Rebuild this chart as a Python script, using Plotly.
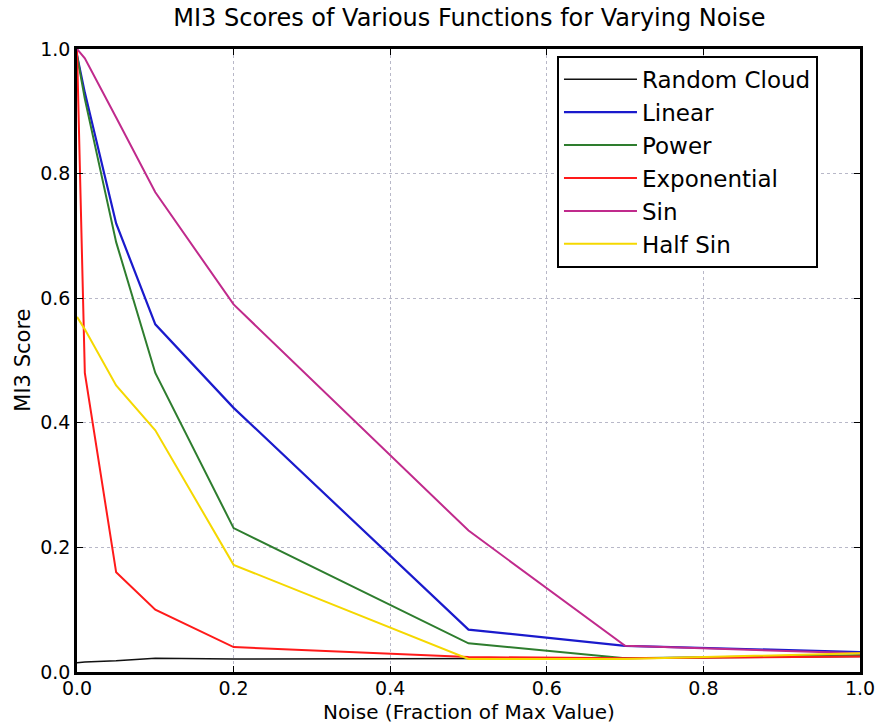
import plotly.graph_objects as go

noise = [0.0, 0.01, 0.05, 0.1, 0.2, 0.5, 0.7, 1.0]

random_cloud = [0.015, 0.016, 0.018, 0.022, 0.021, 0.022, 0.022, 0.025]
linear = [0.99, 0.93, 0.72, 0.558, 0.424, 0.068, 0.042, 0.032]
power = [0.99, 0.92, 0.69, 0.48, 0.231, 0.046, 0.022, 0.027]
exponential = [1.0, 0.48, 0.16, 0.10, 0.04, 0.024, 0.022, 0.025]
sin_vals = [1.0, 0.985, 0.89, 0.77, 0.59, 0.227, 0.042, 0.03]
half_sin = [0.57, 0.55, 0.46, 0.388, 0.172, 0.021, 0.021, 0.03]

series = [
    ("Random Cloud", random_cloud, "#111111", 1.5),
    ("Linear", linear, "#1a1acc", 2.2),
    ("Power", power, "#2e7d2e", 2.0),
    ("Exponential", exponential, "#ff1a1a", 2.0),
    ("Sin", sin_vals, "#c02a8c", 2.0),
    ("Half Sin", half_sin, "#f5d800", 2.0),
]

fig = go.Figure()
for name, vals, color, w in series:
    fig.add_trace(go.Scatter(x=noise, y=vals, mode="lines", name=name,
                             line=dict(color=color, width=w)))

font = "DejaVu Sans"
axis_common = dict(
    showline=True, linecolor="black", linewidth=2.5, mirror="allticks",
    ticks="inside", ticklen=6, tickwidth=1, tickcolor="black",
    showgrid=True, gridcolor="#b8b8c8", griddash="dot", gridwidth=1,
    zeroline=False, tickfont=dict(family=font, size=19, color="black"),
    tickformat=".1f", dtick=0.2, automargin=False,
)

fig.update_layout(
    width=879, height=723,
    margin=dict(l=77, r=19, t=49, b=51),
    paper_bgcolor="white", plot_bgcolor="white",
    title=dict(text="MI3 Scores of Various Functions for Varying Noise",
               x=0.534, xanchor="center", y=0.976, yanchor="middle",
               font=dict(family=font, size=24, color="black")),
    xaxis=dict(range=[0, 1], ticklabelstandoff=-3, **axis_common),
    yaxis=dict(range=[0, 1], **axis_common),
    legend=dict(x=0.613, y=0.989, xanchor="left", yanchor="top",
                bgcolor="white", bordercolor="black", borderwidth=2,
                font=dict(family=font, size=23, color="black"),
                itemwidth=73, tracegroupgap=0),
    showlegend=True,
    annotations=[
        dict(text="Noise (Fraction of Max Value)", xref="paper", yref="paper",
             x=0.5, y=-0.0645, xanchor="center", yanchor="middle",
             showarrow=False, font=dict(family=font, size=20, color="black")),
        dict(text="MI3 Score", xref="paper", yref="paper",
             x=-0.070, y=0.5, xanchor="center", yanchor="middle", textangle=-90,
             showarrow=False, font=dict(family=font, size=21, color="black")),
    ],
)

fig.write_html("out.html")
